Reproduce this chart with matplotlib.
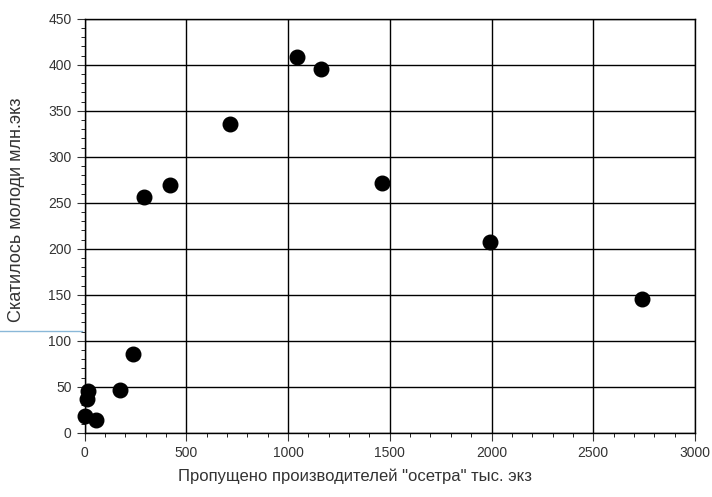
import matplotlib.pyplot as plt
from matplotlib.ticker import MultipleLocator
from matplotlib.lines import Line2D

plt.rcParams['font.family'] = ['Liberation Sans', 'DejaVu Sans']

# пропущено производителей, тыс. экз
proizvoditeli = [3, 10, 15, 55, 172, 236, 290, 418, 713, 1043, 1161, 1461, 1992, 2740]
# скатилось молоди, млн. экз
molod = [18, 37, 45, 14, 47, 86, 256, 269, 336, 409, 396, 272, 207, 146]

fig = plt.figure(figsize=(7.12, 4.97), dpi=100)
ax = fig.add_axes([0.119, 0.129, 0.857, 0.833])

ax.scatter(proizvoditeli, molod, s=110, color='black', zorder=3, clip_on=False)

ax.set_xlim(0, 3000)
ax.set_ylim(0, 450)
ax.xaxis.set_major_locator(MultipleLocator(500))
ax.xaxis.set_minor_locator(MultipleLocator(100))
ax.yaxis.set_major_locator(MultipleLocator(50))
ax.yaxis.set_minor_locator(MultipleLocator(10))
ax.grid(True, which='major', color='black', linewidth=1)
ax.tick_params(which='major', length=6, labelsize=10, colors='#333333')
ax.tick_params(which='minor', length=3)
for s in ax.spines.values():
    s.set_linewidth(1)

ax.set_xlabel('Пропущено производителей "осетра" тыс. экз', fontsize=12, color='#333333')
ax.set_ylabel('Скатилось молоди млн.экз', fontsize=13, color='#333333')
ax.xaxis.set_label_coords(0.443, -0.085)
ax.yaxis.set_label_coords(-0.098, 0.54)

# голубая черта слева (как на исходном рисунке)
fig.add_artist(Line2D([0, 0.115], [0.334, 0.334], transform=fig.transFigure,
                      color='#8ab8d8', linewidth=1))

fig.savefig('out.png', dpi=100)
